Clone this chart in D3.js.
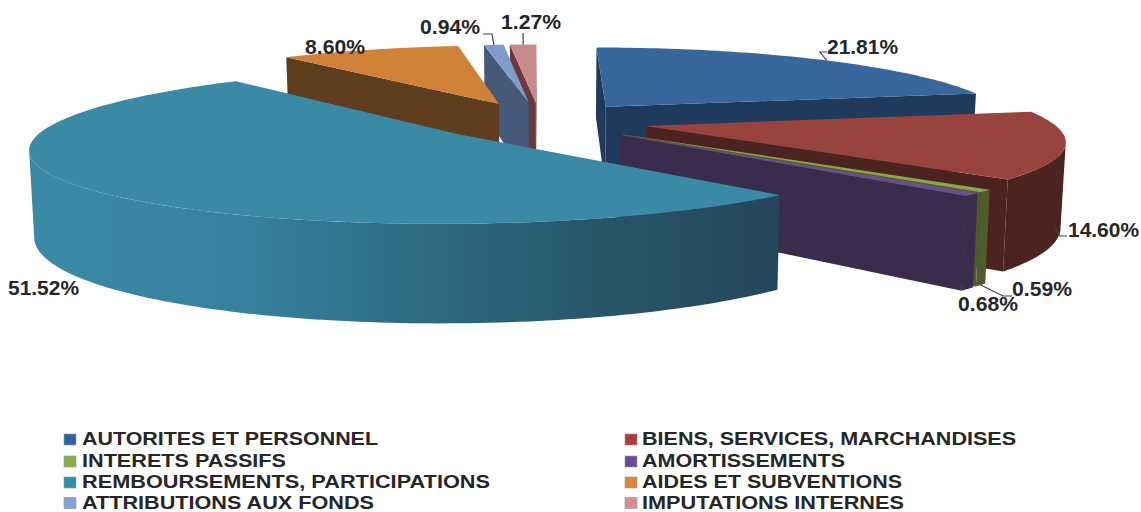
<!DOCTYPE html>
<html>
<head>
<meta charset="utf-8">
<script src="https://cdn.jsdelivr.net/npm/d3@7"></script>
<style>
html,body{margin:0;padding:0;background:#fff}
svg{display:block}
text{font-family:"Liberation Sans",Arial,sans-serif;font-weight:700;fill:#262626}
</style>
</head>
<body>
<svg id="chart" width="1141" height="512"></svg>
<script>
const categories = ["AUTORITES ET PERSONNEL","BIENS, SERVICES, MARCHANDISES","INTERETS PASSIFS","AMORTISSEMENTS","REMBOURSEMENTS, PARTICIPATIONS","AIDES ET SUBVENTIONS","ATTRIBUTIONS AUX FONDS","IMPUTATIONS INTERNES"];
const shares = [21.81,14.60,0.59,0.68,51.52,8.60,0.94,1.27];
const topColors = ["#38679d","#99433f","#8ea64b","#6a4e8e","#3a8aa6","#cf8238","#7f9dcb","#c98a8c"];
const wallColors = ["#203a5e","#4d2320","#4e5c2c","#3a2c4c","#24485a","#5f3d1e","#47597a","#6b3a3f"];
const legendColors = ["#2f62a0","#b03a3c","#8aac46","#6a4a9a","#2f8fa8","#e0852f","#86a0d0","#d88c90"];
const legendWidths = [296,374,204,203,408,260,292,262];
const labelLeft = [827,1068,1012,958,8,305,420,501];
const labelMid = [47,230,289,304,288,47,27,22];

const svg = d3.select("#chart");
const cx=540, cy=121, Rx=406, Ry=72, explodeX=0.265, explodeY=0.265, perspX=0.17, perspY=0.15, depth=82, bottomScale=0.99;
const xs = d3.scaleLinear().domain([-1,1]).range([-Rx,Rx]);
const ys = d3.scaleLinear().domain([-1,1]).range([-Ry,Ry]);
function project(X,Y,low){
  const sx = 1/(1-perspX*Y), sy = 1/(1-perspY*Y);
  return [cx+xs(X)*sx*(low?bottomScale:1), cy+ys(Y)*sy+(low?depth*sy:0)];
}
const pie = d3.pie().sort(null).value(d=>d)(shares);
const slices = pie.map((p,i)=>{
  const mid=(p.startAngle+p.endAngle)/2;
  return {i, a0:p.startAngle, a1:p.endAngle, ax:explodeX*Math.sin(mid), ay:-explodeY*Math.cos(mid)};
});
const pt=(sl,a,r,low)=>project(sl.ax+r*Math.sin(a), sl.ay-r*Math.cos(a), low);
const line=d3.line();
const defs=svg.append("defs");
const grad=defs.append("linearGradient").attr("id","wallTeal").attr("gradientUnits","userSpaceOnUse")
  .attr("x1",30).attr("x2",790).attr("y1",0).attr("y2",0);
[[0,"#3a8aa6"],[0.28,"#36829e"],[0.46,"#2f7088"],[0.74,"#28566b"],[1,"#24465a"]].forEach(s=>grad.append("stop").attr("offset",s[0]).attr("stop-color",s[1]));

function arcSamples(a0,a1){const n=Math.max(2,Math.ceil((a1-a0)/0.02));return d3.range(n+1).map(k=>a0+(a1-a0)*k/n);}
function radialVisible(sl,a){
  const A=pt(sl,0,0),O=pt(sl,a,1),M=pt(sl,(sl.a0+sl.a1)/2,0.6);
  const t=(M[0]-A[0])/((O[0]-A[0])||1e-6);
  return M[1] < A[1]+(O[1]-A[1])*t;
}
function frontRange(sl){
  /* the visible part of the rim runs from the pie's right-most to its left-most screen point */
  const full=d3.range(0,Math.PI*2,0.005);
  const right=d3.greatest(full,a=>pt(sl,a,1)[0]), left=d3.least(full,a=>pt(sl,a,1)[0]);
  return [Math.max(sl.a0,right),Math.min(sl.a1,left)];
}
const order=[0,7,6,5,1,2,3,4];
order.forEach(idx=>{
  const sl=slices[idx], g=svg.append("g");
  const wall = idx===4?"url(#wallTeal)":wallColors[idx];
  [sl.a0,sl.a1].forEach(a=>{
    if(radialVisible(sl,a)){
      g.append("path").attr("d",line([pt(sl,0,0),pt(sl,a,1),pt(sl,a,1,true),pt(sl,0,0,true)])+"Z")
        .attr("fill",wallColors[idx]);
    }
  });
  const [f0,f1]=frontRange(sl);
  if(f1>f0){
    const as=arcSamples(f0,f1);
    const pts=as.map(a=>pt(sl,a,1)).concat(as.slice().reverse().map(a=>pt(sl,a,1,true)));
    g.append("path").attr("d",line(pts)+"Z").attr("fill",wall);
  }
  const top=[pt(sl,0,0)].concat(arcSamples(sl.a0,sl.a1).map(a=>pt(sl,a,1)));
  g.append("path").attr("d",line(top)+"Z").attr("fill",topColors[idx]);
});

/* data labels */
const fmt=d3.format(".2f");
shares.forEach((v,i)=>{
  svg.append("text").attr("x",labelLeft[i]).attr("y",labelMid[i]).attr("dy","0.36em")
    .attr("font-size",20).attr("textLength",v>=10?71:60).attr("lengthAdjust","spacingAndGlyphs").text(fmt(v)+"%");
});
/* leader lines start on the slice's own rim */
const rim=(i,f,low)=>{const s=slices[i];return pt(s,s.a0+(s.a1-s.a0)*f,1,low);};
const leaders=[
  [rim(0,0.52),[820,52],[827,52]],
  [[1055,228],[1060,236],[1067,236]],
  [rim(2,0.5,true),[1003,296],[1012,296]],
  [rim(6,0.5),[492,34],[483,34]],
  [rim(7,0.5),[rim(7,0.5)[0],33]]
];
leaders.forEach(l=>svg.append("path").attr("d",line(l)).attr("fill","none").attr("stroke","#444").attr("stroke-width",1.2));

/* legend */
const legX=[64,625], txtX=[82,642], rowY=[439,461,482,502.5];
categories.forEach((c,i)=>{
  const col=i%2,row=Math.floor(i/2);
  svg.append("rect").attr("x",legX[col]).attr("y",rowY[row]-5).attr("width",12).attr("height",11).attr("fill",legendColors[i]).attr("stroke","#8a9aa8").attr("stroke-width",0.6);
  svg.append("text").attr("x",txtX[col]).attr("y",rowY[row]).attr("dy","0.36em").attr("font-size",17.5)
    .attr("textLength",legendWidths[i]).attr("lengthAdjust","spacingAndGlyphs").text(c);
});
</script>
</body>
</html>
